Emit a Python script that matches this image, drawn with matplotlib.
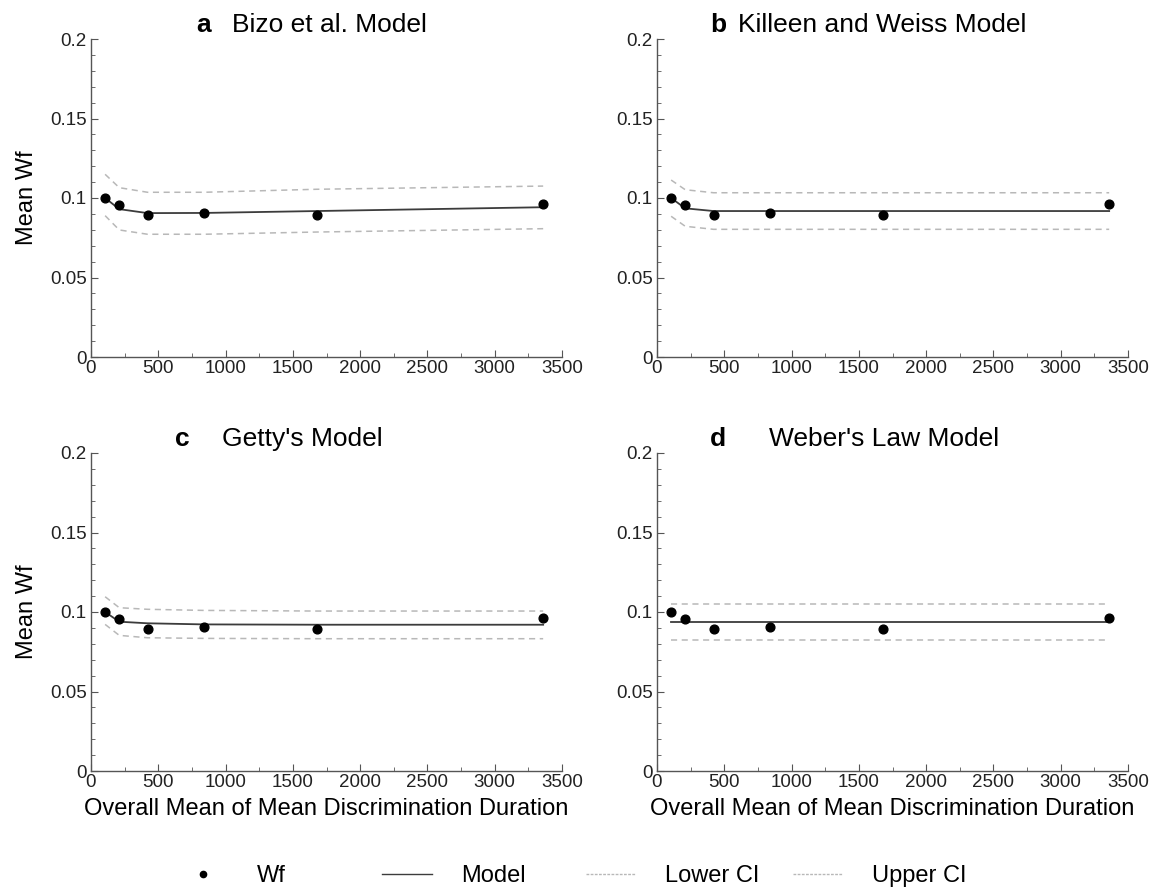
import numpy as np
import matplotlib.pyplot as plt
from matplotlib.ticker import MultipleLocator
from matplotlib.lines import Line2D

plt.rcParams['font.family'] = ['Liberation Sans', 'DejaVu Sans']

# 数据
duration = [105, 210, 420, 840, 1680, 3360]
wf = [0.100, 0.0957, 0.0894, 0.0907, 0.0894, 0.0961]

model_a = [0.100, 0.0930, 0.0905, 0.0906, 0.0918, 0.0942]
upper_a = [0.1149, 0.1065, 0.1036, 0.1036, 0.1055, 0.1075]
lower_a = [0.0889, 0.0799, 0.0772, 0.0772, 0.0786, 0.0807]

model_b = [0.100, 0.0935, 0.0918, 0.0918, 0.0918, 0.0918]
upper_b = [0.1113, 0.1052, 0.1033, 0.1033, 0.1033, 0.1033]
lower_b = [0.0885, 0.0822, 0.0803, 0.0803, 0.0803, 0.0803]

model_c = [0.100, 0.0939, 0.0929, 0.0922, 0.0920, 0.0920]
upper_c = [0.1096, 0.1027, 0.1017, 0.1010, 0.1006, 0.1006]
lower_c = [0.0922, 0.0853, 0.0838, 0.0834, 0.0832, 0.0832]

model_d = [0.0939] * 6
upper_d = [0.1050] * 6
lower_d = [0.0824] * 6

letters = ["a", "b", "c", "d"]
titles = ["Bizo et al. Model", "Killeen and Weiss Model", "Getty's Model", "Weber's Law Model"]
models = [model_a, model_b, model_c, model_d]
uppers = [upper_a, upper_b, upper_c, upper_d]
lowers = [lower_a, lower_b, lower_c, lower_d]

legend_labels = ["Wf", "Model", "Lower CI", "Upper CI"]

W, H = 1151, 891
fig = plt.figure(figsize=(W / 100, H / 100), dpi=100)

# 位置 (像素)
lefts = [91, 657, 91, 657]
bottoms = [357, 357, 771, 771]
letter_x = [0.238, 0.130, 0.193, 0.130]
text_x = [0.300, 0.172, 0.278, 0.238]

spine_col = "#555555"
model_col = "#3c3c3c"
ci_col = "#b8b8b8"
for i in range(4):
    ax = fig.add_axes([lefts[i] / W, 1 - bottoms[i] / H, 471 / W, 318 / H])
    ax.plot(duration, uppers[i], color=ci_col, lw=1.1, ls=(0, (4, 3)))
    ax.plot(duration, lowers[i], color=ci_col, lw=1.1, ls=(0, (4, 3)))
    ax.plot(duration, models[i], color=model_col, lw=1.3)
    ax.plot(duration, wf, "o", color="black", ms=6.3)

    ax.set_xlim(0, 3500)
    ax.set_ylim(0, 0.2)
    ax.set_xticks(np.arange(0, 3501, 500))
    ax.set_yticks([0, 0.05, 0.1, 0.15, 0.2])
    ax.set_yticklabels(["0", "0.05", "0.1", "0.15", "0.2"])
    ax.xaxis.set_minor_locator(MultipleLocator(250))
    ax.yaxis.set_minor_locator(MultipleLocator(0.01))
    ax.tick_params(which="both", direction="in", color=spine_col, labelsize=13.5, labelcolor="#222222")
    ax.tick_params(axis="y", pad=3)
    ax.tick_params(axis="x", pad=2)
    ax.tick_params(which="major", length=5)
    ax.tick_params(which="minor", length=3)
    for s in ["top", "right"]:
        ax.spines[s].set_visible(False)
    for s in ["left", "bottom"]:
        ax.spines[s].set_color(spine_col)
        ax.spines[s].set_linewidth(1.0)

    ax.text(letter_x[i], 1.045, letters[i], transform=ax.transAxes, fontsize=19,
            fontweight="bold", ha="center", va="center")
    ax.text(text_x[i], 1.045, titles[i], transform=ax.transAxes, fontsize=19,
            ha="left", va="center")

    if i % 2 == 0:
        ax.set_ylabel("Mean Wf", fontsize=17, labelpad=9)
    if i >= 2:
        ax.set_xlabel("Overall Mean of Mean Discrimination Duration", fontsize=17, labelpad=5)

# 图例
handles = [
    Line2D([], [], ls="none", marker="o", color="black", ms=4.5),
    Line2D([], [], color=model_col, lw=1.0),
    Line2D([], [], color=ci_col, lw=1.0, ls=(0, (2, 1))),
    Line2D([], [], color=ci_col, lw=1.0, ls=(0, (2, 1))),
]
leg_x = [185, 389, 593, 800]
for h, lab, lx in zip(handles, legend_labels, leg_x):
    fig.legend([h], [lab], loc="center left", bbox_to_anchor=(lx / W - 0.006, 1 - 876 / H),
               frameon=False, fontsize=17, handlelength=2.1, handletextpad=1.25,
               borderpad=0, borderaxespad=0)

fig.savefig("out.png", dpi=100)
